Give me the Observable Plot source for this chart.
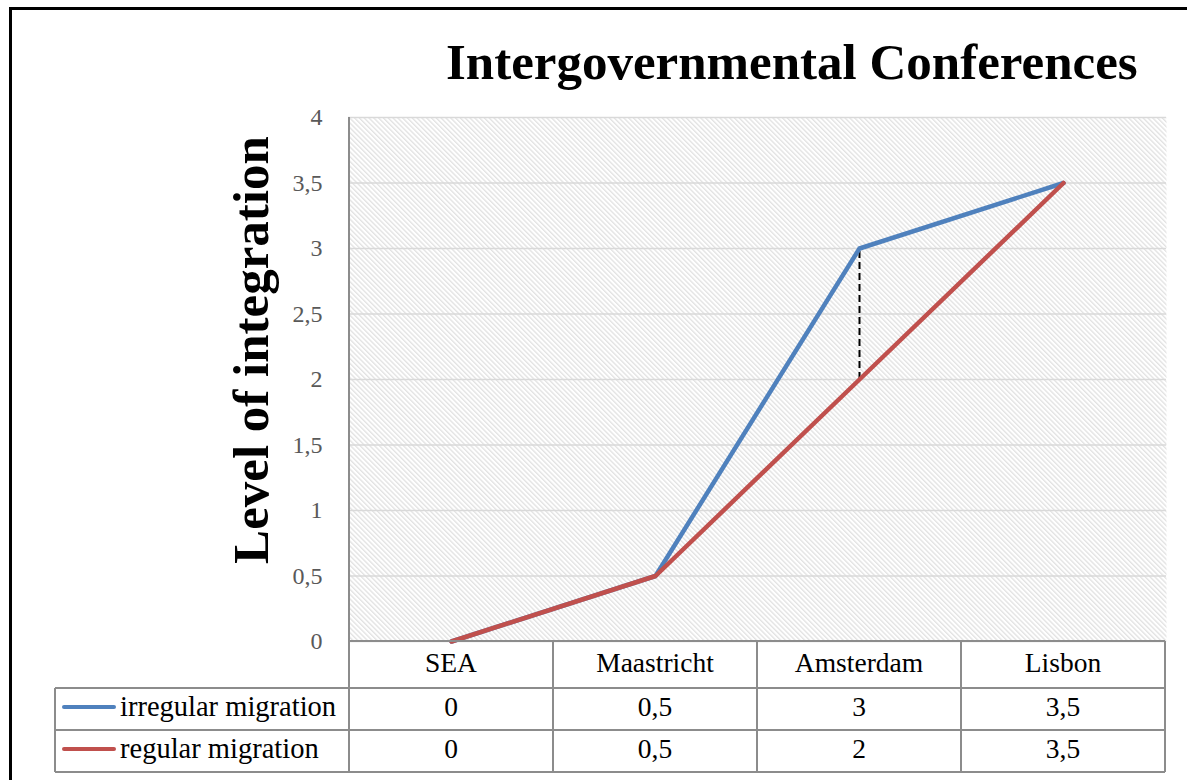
<!DOCTYPE html>
<html><head><meta charset="utf-8">
<script src="https://cdn.jsdelivr.net/npm/d3@7"></script>
<script src="https://cdn.jsdelivr.net/npm/@observablehq/plot@0.6"></script>
<style>
body{margin:0;background:#fff;}
#wrap{position:relative;width:1187px;height:780px;overflow:hidden;background:#fff;}
#frame{position:absolute;left:9px;top:7px;width:1200px;height:800px;border-left:3px solid #000;border-top:3px solid #000;}
#chart{position:absolute;left:0;top:0;}
#title{position:absolute;left:446px;top:37px;font:bold 51px "Liberation Serif",serif;line-height:1;white-space:nowrap;color:#000;}
</style></head><body>
<div id="wrap"><div id="frame"></div><div id="chart"></div><div id="title">Intergovernmental Conferences</div></div>
<script>
// ---- data ----
const conferences = ["SEA", "Maastricht", "Amsterdam", "Lisbon"];
const irregular = [0, 0.5, 3, 3.5];
const regular = [0, 0.5, 2, 3.5];
const seriesNames = ["irregular migration", "regular migration"];
const seriesColors = ["#4f81bd", "#c0504d"];
const yTicks = [0, 0.5, 1, 1.5, 2, 2.5, 3, 3.5, 4];
const gapMarker = [{conference: "Amsterdam", from: 2, to: 3}];
const yLabel = "Level of integration";

const fmt = d => String(d).replace(".", ",");
const seriesValues = [irregular, regular];
const rows = seriesNames.flatMap((s, si) => conferences.map((c, i) => ({conference: c, series: s, value: seriesValues[si][i]})));

const W = 1187, H = 780;
const plot = Plot.plot({
  width: W, height: H,
  marginLeft: 348, marginRight: 21, marginTop: 117, marginBottom: 139,
  style: {background: "transparent", fontFamily: "Liberation Serif, serif", fontSize: "24px", overflow: "visible"},
  x: {domain: conferences, type: "point", padding: 0.5, axis: null},
  y: {domain: [0, 4], axis: null},
  color: {domain: seriesNames, range: seriesColors},
  marks: [
    Plot.frame({fill: "url(#hatch)", stroke: null}),
    Plot.gridY(yTicks, {stroke: "#d9d9d9", strokeOpacity: 1, strokeWidth: 1.5}),
    Plot.axisY(yTicks, {tickSize: 0, tickPadding: 26, tickFormat: fmt, fill: "#595959", fontSize: 24, label: null}),
    Plot.ruleX(gapMarker, {x: "conference", y1: "from", y2: "to", stroke: "#000", strokeWidth: 2, strokeDasharray: "7,4"}),
    Plot.line(rows, {x: "conference", y: "value", z: "series", stroke: "series", strokeWidth: 4.5, strokeLinecap: "round", strokeLinejoin: "round"})
  ]
});
document.getElementById("chart").appendChild(plot);

const svg = d3.select(plot);
// hatch pattern
const pat = svg.insert("defs", ":first-child").append("pattern")
  .attr("id", "hatch").attr("patternUnits", "userSpaceOnUse")
  .attr("width", 3.4).attr("height", 10).attr("patternTransform", "rotate(-45)");
pat.append("rect").attr("width", 3.4).attr("height", 10).attr("fill", "#fff");
pat.append("line").attr("x1", 0.7).attr("x2", 0.7).attr("y1", 0).attr("y2", 10).attr("stroke", "#dcdcdc").attr("stroke-width", 1.1);

// data table below, aligned to the x scale
const sx = plot.scale("x"), sy = plot.scale("y");
const step = sx.apply(conferences[1]) - sx.apply(conferences[0]);
const x0 = sx.apply(conferences[0]) - step / 2;
const x1 = x0 + step * conferences.length;
const yTop = sy.apply(4), y0 = sy.apply(0);
const rowEdges = [y0, y0 + 47, y0 + 89, y0 + 131];
const legendLeft = 55;
const g = svg.append("g").attr("font-family", "Liberation Serif, serif").attr("font-size", 27.5).attr("fill", "#000");
const lineCol = "#8c8c8c";
// horizontal borders
g.append("line").attr("x1", x0).attr("x2", x1).attr("y1", rowEdges[0]).attr("y2", rowEdges[0]).attr("stroke", lineCol).attr("stroke-width", 2);
for (let r = 1; r < rowEdges.length; r++) {
  g.append("line").attr("x1", legendLeft).attr("x2", x1).attr("y1", rowEdges[r]).attr("y2", rowEdges[r]).attr("stroke", lineCol).attr("stroke-width", 2);
}
// vertical borders
g.append("line").attr("x1", x0).attr("x2", x0).attr("y1", yTop).attr("y2", rowEdges[3]).attr("stroke", lineCol).attr("stroke-width", 2);
for (let i = 1; i <= conferences.length; i++) {
  const x = x0 + step * i;
  g.append("line").attr("x1", x).attr("x2", x).attr("y1", rowEdges[0]).attr("y2", rowEdges[3]).attr("stroke", lineCol).attr("stroke-width", 2);
}
g.append("line").attr("x1", legendLeft).attr("x2", legendLeft).attr("y1", rowEdges[1]).attr("y2", rowEdges[3]).attr("stroke", lineCol).attr("stroke-width", 2);
// header
conferences.forEach(c => {
  g.append("text").attr("x", sx.apply(c)).attr("y", rowEdges[0] + 31).attr("text-anchor", "middle").text(c);
});
// series rows
seriesNames.forEach((s, si) => {
  const top = rowEdges[si + 1];
  const mid = top + 19;
  g.append("line").attr("x1", 64).attr("x2", 114).attr("y1", mid).attr("y2", mid)
    .attr("stroke", seriesColors[si]).attr("stroke-width", 4).attr("stroke-linecap", "round");
  g.append("text").attr("x", 120).attr("y", top + 28).attr("font-size", 28.5).attr("text-anchor", "start").text(s);
  conferences.forEach((c, i) => {
    g.append("text").attr("x", sx.apply(c)).attr("y", top + 28).attr("text-anchor", "middle").text(fmt(seriesValues[si][i]));
  });
});
// y axis title
svg.append("text").attr("transform", `translate(268,${(yTop + y0) / 2 - 29}) rotate(-90)`)
  .attr("text-anchor", "middle").attr("font-family", "Liberation Serif, serif").attr("font-weight", "bold")
  .attr("font-size", 51).attr("fill", "#000").text(yLabel);
</script>
</body></html>
